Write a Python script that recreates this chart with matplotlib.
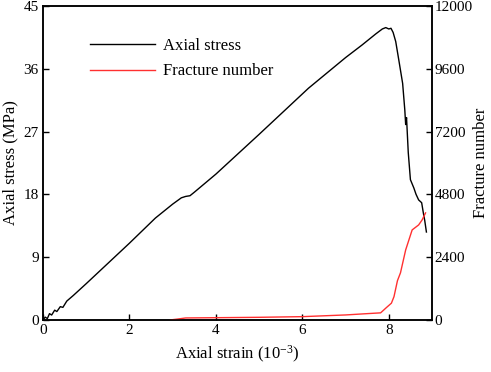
import matplotlib
matplotlib.use("Agg")
import matplotlib.pyplot as plt

plt.rcParams["font.family"] = ["Liberation Serif", "DejaVu Serif"]
plt.rcParams["mathtext.fontset"] = "custom"
plt.rcParams["mathtext.rm"] = "Liberation Serif"
plt.rcParams["mathtext.it"] = "Liberation Serif:italic"

# ---- data -----------------------------------------------------------------
stress_strain = [0, 0.05, 0.10, 0.15, 0.20, 0.27, 0.32, 0.40, 0.46, 0.55, 0.70,
                 1.0, 1.5, 2.0, 2.6, 3.0, 3.2, 3.3, 3.4, 3.5, 4.0, 5.0, 6.14,
                 7.0, 7.38, 7.7, 7.85, 7.93, 8.0, 8.05, 8.1, 8.16, 8.23, 8.32,
                 8.37, 8.39, 8.41, 8.45, 8.5, 8.58, 8.63, 8.69, 8.76, 8.8,
                 8.83, 8.87]
stress = [0, 0.4, 0.2, 0.9, 0.7, 1.4, 1.2, 1.9, 1.8, 2.7, 3.5,
          5.2, 8.1, 11.0, 14.6, 16.6, 17.5, 17.7, 17.8, 18.3, 20.9, 26.6, 33.2,
          37.6, 39.4, 41.0, 41.7, 41.9, 41.7, 41.8, 41.2, 39.9, 37.3, 33.9,
          30.1, 28.0, 29.0, 24.0, 20.1, 18.9, 18.0, 17.2, 16.8, 15.3,
          14.3, 12.6]

frac_strain = [2.95, 3.1, 3.3, 4.0, 5.0, 6.0, 7.0, 7.5, 7.81, 7.95, 8.06,
               8.12, 8.2, 8.27, 8.39, 8.54, 8.69, 8.77, 8.85]
frac_num = [0, 30, 75, 85, 100, 125, 190, 240, 270, 480, 640,
            890, 1500, 1800, 2675, 3440, 3630, 3820, 4090]

stress_ticks = [0, 9, 18, 27, 36, 45]
frac_ticks = [0, 2400, 4800, 7200, 9600, 12000]
strain_ticks = [0, 2, 4, 6, 8]

# ---- plot -------------------------------------------------------------------
fig = plt.figure(figsize=(4.91, 3.72), dpi=100)
ax = fig.add_axes([0.0876, 0.14, 0.7923, 0.844])
ax2 = ax.twinx()

l1, = ax.plot(stress_strain, stress, color="black", lw=1.0, label="Axial stress")
l2, = ax2.plot(frac_strain, frac_num, color="#ff3030", lw=1.0, label="Fracture number")

ax.set_xlim(0, 9)
ax.set_ylim(0, 45)
ax2.set_ylim(0, 12000)
ax.set_xticks(strain_ticks)
ax.set_yticks(stress_ticks)
ax2.set_yticks(frac_ticks)

for a in (ax, ax2):
    a.tick_params(direction="in", length=4, width=1, labelsize=11, pad=3)
    for s in a.spines.values():
        s.set_linewidth(1.1)
ax2.tick_params(pad=2)

ax.set_xlabel("Axial strain (10$^{-3}$)", fontsize=12, labelpad=5)
ax.set_ylabel("Axial stress (MPa)", fontsize=12, labelpad=4)
ax2.set_ylabel("Fracture number", fontsize=12, labelpad=0)

ax.legend(handles=[l1, l2], loc="upper left", bbox_to_anchor=(0.12, 0.897),
          frameon=False, fontsize=12, handlelength=3.9, handletextpad=0.5,
          labelspacing=0.55, borderpad=0, borderaxespad=0)

fig.savefig("out.png", dpi=100)
